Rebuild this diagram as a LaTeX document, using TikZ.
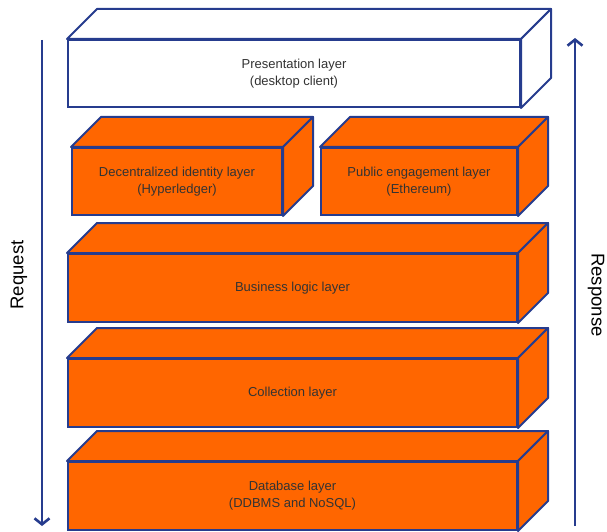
\documentclass[tikz,border=0pt]{standalone}
\usepackage{fontspec}
\setmainfont{Liberation Sans}
\usetikzlibrary{arrows.meta,calc}
\definecolor{navy}{HTML}{263C8E}
\definecolor{layerorange}{HTML}{FF6600}
\definecolor{labelgray}{HTML}{333333}
\tikzset{
  x=1pt, y=1pt,
  layer/.style={draw=navy, line width=2pt, align=center,
    inner sep=0pt, text=labelgray, font=\fontsize{13}{17}\selectfont},
  face/.style={draw=navy, line width=2pt, line join=round},
  flow/.style={draw=navy, line width=2.6pt, -{Straight Barb[length=6pt,width=15pt,line width=2.6pt]}},
  sidelabel/.style={font=\fontsize{18.5}{20}\selectfont, text=black}
}
% front face as a node, then its top and right faces
\newcommand{\cuboid}[7]{%
  \node[layer, minimum width=#4, minimum height=#5, fill=#6] (#1) at (#2,#3) {#7};
  \draw[face, fill=#6] (#1.north west) -- ++(30,30) -- ($(#1.north east)+(30,30)$) -- (#1.north east) -- cycle;
  \draw[face, fill=#6] (#1.north east) -- ++(30,30) -- ($(#1.south east)+(30,30)$) -- (#1.south east) -- cycle;
}
\begin{document}
\begin{tikzpicture}
\useasboundingbox (0,0) rectangle (607,531);

\cuboid{pres}{294}{457.5}{452}{67}{white}{Presentation layer\\(desktop client)}
\cuboid{did}{177}{349.5}{210}{67}{layerorange}{Decentralized identity layer\\(Hyperledger)}
\cuboid{pub}{419}{349.5}{196}{67}{layerorange}{Public engagement layer\\(Ethereum)}
\cuboid{biz}{292.5}{243}{449}{68}{layerorange}{Business logic layer}
\cuboid{coll}{292.5}{138}{449}{68}{layerorange}{Collection layer}
\cuboid{db}{292.5}{35}{449}{68}{layerorange}{Database layer\\(DDBMS and NoSQL)}

% request / response flow
\coordinate (reqtop) at (42,491);
\coordinate (reqbot) at (42,5);
\coordinate (resbot) at (575,5);
\coordinate (restop) at (575,493);
\draw[flow] (reqtop) -- (reqbot);
\draw[flow] (resbot) -- (restop);

\node[sidelabel, rotate=90] (req) at (19,256) {Request};
\node[sidelabel, rotate=-90] (res) at (596,236) {Response};
\end{tikzpicture}
\end{document}
